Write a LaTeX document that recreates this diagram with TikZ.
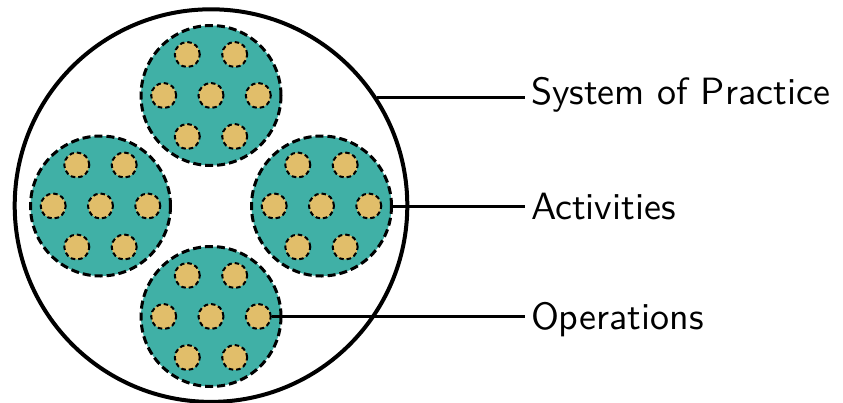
\documentclass[tikz,border=0pt]{standalone}
\usepackage{fontspec}
\setsansfont{lmsans10-regular}[Extension=.otf]
\definecolor{tealfill}{HTML}{40B0A6}
\definecolor{goldfill}{HTML}{E1BE6A}
\tikzset{
  system/.style={circle,draw=black,line width=4pt,minimum size=392.6pt,inner sep=0pt},
  activity/.style={circle,draw=black,fill=tealfill,line width=3pt,dash pattern=on 8pt off 4pt,minimum size=140pt,inner sep=0pt},
  operation/.style={circle,draw=black,fill=goldfill,line width=2pt,dash pattern=on 4.5pt off 3pt,minimum size=25pt,inner sep=0pt},
  connector/.style={line width=3pt},
  label/.style={anchor=base west,inner sep=0pt,outer sep=0pt,font=\sffamily\fontsize{38}{45}\selectfont,text=black}
}
\begin{document}
\begin{tikzpicture}[x=1pt,y=-1pt]
\useasboundingbox (0,0) rectangle (843,402);
\node[system] (sys) at (211,205.6) {};
\foreach \n/\cx/\cy in {T/211/95.5,L/100.5/206,R/321.5/206,B/211/316.5}{
  \node[activity] (act\n) at (\cx,\cy) {};
  \foreach \m/\dx/\dy in {a/-23.7/-41,b/23.7/-41,c/-47.3/0,d/0/0,e/47.3/0,f/-23.7/41,g/23.7/41}{
    \node[operation] (op\n\m) at (\cx+\dx,\cy+\dy) {};
  }
}
\node[label] (lblSys) at (531,104.5) {System of Practice};
\node[label] (lblAct) at (531,219) {Activities};
\node[label] (lblOp) at (531,329) {Operations};
\coordinate (lsW) at (525,95.5);
\coordinate (laW) at (525,206);
\coordinate (loW) at (525,316);
\draw[connector] (sys.33.8) -- (sys.33.8 -| lsW);
\draw[connector] (actR.east) -- (actR.east -| laW);
\draw[connector] (opBe.east) -- (opBe.east -| loW);
\end{tikzpicture}
\end{document}
